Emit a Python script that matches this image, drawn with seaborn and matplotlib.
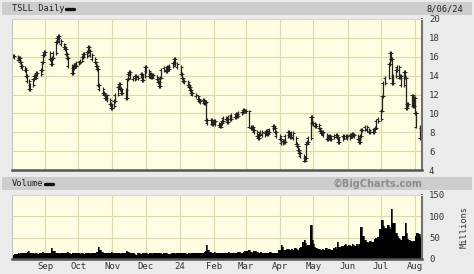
import numpy as np
import pandas as pd
import matplotlib
matplotlib.use("Agg")
import matplotlib.pyplot as plt
import seaborn as sns
from matplotlib.patches import Rectangle
from matplotlib.lines import Line2D

# ---------------- data ----------------
holidays = ['2023-09-04', '2023-11-23', '2023-12-25', '2024-01-01', '2024-01-15',
            '2024-02-19', '2024-03-29', '2024-05-27', '2024-06-19', '2024-07-04']

close_aug23 = [16.1, 16.0, 15.7, 15.9, 15.4, 15.0, 14.8, 14.6, 14.0, 13.4, 12.6, 13.0, 13.6, 14.0, 13.8, 14.3, 14.2, 14.6, 15.4, 16.2, 16.5]
close_sep23 = [16.4, 15.8, 15.2, 15.9, 16.4, 17.6, 18.0, 18.2, 17.7, 17.3, 17.0, 16.8, 16.3, 15.9, 15.0, 14.3, 14.8, 15.1, 15.0, 15.3]
close_oct23 = [15.4, 15.6, 16.0, 16.3, 16.1, 16.5, 17.0, 16.6, 16.2, 15.8, 15.4, 15.0, 14.7, 13.0, 12.6, 12.2, 12.0, 11.6, 11.9, 11.4, 11.0, 10.6]
close_nov23 = [10.8, 11.3, 12.0, 12.8, 13.1, 12.6, 12.2, 12.5, 11.6, 13.6, 14.2, 14.4, 13.8, 13.6, 14.0, 13.7, 13.9, 14.2, 13.5, 14.0, 14.9]
close_dec23 = [14.5, 14.0, 14.2, 13.8, 14.1, 13.9, 13.6, 13.3, 12.9, 13.8, 14.6, 14.8, 14.5, 14.9, 14.7, 15.0, 15.3, 15.8, 15.2, 14.9]
close_jan24 = [14.2, 13.7, 13.4, 13.3, 13.0, 12.8, 12.5, 12.2, 12.0, 11.8, 11.5, 11.3, 11.2, 11.4, 11.1, 11.2, 9.3, 9.0, 9.3, 8.9, 9.1]
close_feb24 = [9.2, 8.9, 8.8, 8.6, 9.0, 9.2, 9.5, 9.4, 9.1, 9.6, 9.4, 9.8, 9.6, 9.9, 9.7, 10.0, 10.1, 10.4, 10.2, 10.3]
close_mar24 = [10.2, 8.6, 8.4, 8.6, 8.2, 8.0, 7.6, 7.4, 7.8, 8.0, 7.7, 7.9, 8.1, 7.8, 8.0, 8.3, 8.7, 8.5, 8.0, 7.6]
close_apr24 = [7.3, 6.9, 7.1, 7.0, 7.6, 8.0, 7.7, 7.5, 7.9, 7.4, 6.8, 6.5, 6.1, 5.8, 5.5, 5.0, 5.3, 6.8, 7.0, 7.4, 9.6, 9.0]
close_may24 = [8.9, 8.7, 8.8, 8.4, 8.1, 7.9, 8.0, 7.7, 7.3, 7.4, 7.6, 7.3, 7.5, 7.6, 7.7, 7.5, 7.0, 7.3, 7.6, 7.5, 7.6, 7.4]
close_jun24 = [7.7, 7.6, 7.8, 7.7, 7.6, 7.3, 7.0, 7.6, 8.2, 8.3, 8.6, 8.2, 8.0, 8.1, 8.0, 8.3, 8.5, 9.2, 9.4]
close_jul24 = [10.3, 11.8, 13.2, 13.8, 15.2, 16.4, 15.8, 13.2, 14.0, 14.6, 14.9, 13.8, 14.0, 13.0, 14.4, 13.8, 10.6, 11.0, 10.9, 11.9, 10.8, 11.6]
close_aug24 = [10.0, 8.6, 7.4, 8.4]

vol_aug23 = [10, 12, 11, 13, 12, 14, 13, 15, 14, 16, 18, 15, 13, 12, 14, 13, 12, 14, 15, 16, 15]
vol_sep23 = [15, 13, 14, 26, 18, 15, 14, 13, 12, 14, 13, 15, 14, 16, 13, 12, 14, 13, 15, 14]
vol_oct23 = [13, 12, 14, 13, 12, 15, 14, 13, 12, 14, 13, 15, 17, 29, 22, 17, 15, 14, 13, 15, 14, 16]
vol_nov23 = [14, 13, 15, 14, 13, 12, 14, 13, 15, 18, 16, 15, 14, 13, 12, 10, 13, 12, 14, 13, 15]
vol_dec23 = [13, 12, 14, 13, 12, 14, 13, 15, 14, 13, 12, 14, 15, 13, 12, 11, 13, 14, 12, 13]
vol_jan24 = [13, 14, 15, 13, 12, 14, 13, 12, 14, 13, 15, 14, 13, 15, 16, 18, 32, 22, 17, 15, 14]
vol_feb24 = [16, 15, 14, 13, 15, 14, 13, 15, 14, 16, 15, 14, 13, 15, 17, 16, 14, 15, 16, 18]
vol_mar24 = [18, 20, 17, 16, 15, 19, 17, 15, 14, 16, 15, 14, 13, 15, 14, 16, 15, 14, 13, 15]
vol_apr24 = [20, 33, 28, 22, 20, 24, 22, 21, 23, 20, 25, 24, 22, 26, 28, 40, 45, 38, 30, 32, 80, 45]
vol_may24 = [35, 28, 25, 24, 22, 20, 23, 21, 25, 22, 24, 20, 22, 26, 27, 24, 40, 28, 30, 32, 35, 31]
vol_jun24 = [33, 30, 34, 32, 31, 35, 30, 36, 76, 55, 45, 40, 38, 42, 40, 48, 50, 47, 52]
vol_jul24 = [70, 91, 78, 72, 80, 75, 70, 117, 85, 60, 55, 50, 48, 45, 55, 84, 60, 48, 45, 42, 40, 43]
vol_aug24 = [55, 61, 58, 52]

month_labels = ['Sep', 'Oct', 'Nov', 'Dec', '24', 'Feb', 'Mar', 'Apr', 'May', 'Jun', 'Jul', 'Aug']
price_ticks = [4, 6, 8, 10, 12, 14, 16, 18, 20]
vol_ticks = [0, 50, 100, 150]

closes = np.array(close_aug23 + close_sep23 + close_oct23 + close_nov23 + close_dec23 + close_jan24 +
                  close_feb24 + close_mar24 + close_apr24 + close_may24 + close_jun24 + close_jul24 + close_aug24)
volume = np.array(vol_aug23 + vol_sep23 + vol_oct23 + vol_nov23 + vol_dec23 + vol_jan24 +
                  vol_feb24 + vol_mar24 + vol_apr24 + vol_may24 + vol_jun24 + vol_jul24 + vol_aug24)
dates = pd.bdate_range('2023-08-03', '2024-08-06', freq='C', holidays=holidays)
n = min(len(dates), len(closes), len(volume))
dates, closes, volume = dates[:n], closes[:n], volume[:n]
opens = np.r_[closes[0], closes[:-1]]
df = pd.DataFrame({'date': dates, 'open': opens, 'close': closes, 'volume': volume})

# ---------------- style ----------------
sns.set_style('white')
plt.rcParams['font.family'] = ['DejaVu Sans Mono', 'DejaVu Sans']

W, H = 474, 274
BG = '#ebebeb'
PLOT_BG = '#fffde2'
GRID = '#dcd8a8'
INK = '#222222'

fig = plt.figure(figsize=(W / 100, H / 100), dpi=100, facecolor=BG)


def box(l, t, r, b):
    return [l / W, 1 - b / H, (r - l) / W, (b - t) / H]


for (t, b) in [(2, 15), (177, 190)]:
    fig.patches.append(Rectangle((2 / W, 1 - b / H), 470 / W, (b - t) / H, transform=fig.transFigure,
                                 facecolor='#cdcdcd', edgecolor='none', zorder=0))

ax_p = fig.add_axes(box(12, 19, 422, 170))
ax_v = fig.add_axes(box(12, 195, 422, 259), sharex=ax_p)

month_starts = pd.date_range('2023-09-01', '2024-08-01', freq='MS')
xlim = (pd.Timestamp('2023-08-02'), pd.Timestamp('2024-08-07 06:00'))

for ax in (ax_p, ax_v):
    ax.set_facecolor(PLOT_BG)
    ax.set_axisbelow(True)
    ax.grid(True, color=GRID, lw=0.8)
    ax.yaxis.tick_right()
    ax.tick_params(axis='y', length=0, pad=5, labelsize=6.5, colors='#333333')
    ax.set_xticks(month_starts)
    ax.spines['left'].set_color('#c4c4c4')
    ax.spines['left'].set_linewidth(0.8)
    ax.spines['top'].set_color('#d4d4d4')
    ax.spines['top'].set_linewidth(0.8)
    ax.spines['right'].set_color('#707070')
    ax.spines['right'].set_linewidth(1.5)
    ax.spines['bottom'].set_color('#555555')
    ax.spines['bottom'].set_linewidth(1.8)

# price bars (range from previous close to close, with open/close ticks)
lo = np.minimum(df['open'], df['close']) - 0.2
hi = np.maximum(df['open'], df['close']) + 0.2
ax_p.vlines(df['date'], lo, hi, color=INK, lw=0.9)
ax_p.plot(df['date'], df['close'], ls='none', marker=0, ms=1.3, mew=0.7, color=INK)
ax_p.plot(df['date'], df['open'], ls='none', marker=1, ms=1.3, mew=0.7, color=INK)
ax_p.set_ylim(4, 20)
ax_p.set_yticks(price_ticks)
ax_p.set_xlim(*xlim)
ax_p.tick_params(axis='x', length=0, labelbottom=False)
ax_p.set_xlabel('')
ax_p.set_ylabel('')

# volume
ax_v.fill_between(df['date'], 0, df['volume'], step='mid', color='black', lw=0)
sns.lineplot(data=df, x='date', y='volume', ax=ax_v, color='black', lw=0.5, drawstyle='steps-mid')
ax_v.set_ylim(0, 150)
ax_v.set_yticks(vol_ticks)
ax_v.set_xlim(*xlim)
ax_v.set_xticks(month_starts)
ax_v.set_xticklabels(month_labels)
ax_v.tick_params(axis='x', length=0, pad=2, labelsize=6.5, colors='#333333')
ax_v.set_xlabel('')
ax_v.set_ylabel('')

# header texts
fig.text(12 / W, 1 - 8.5 / H, 'TSLL Daily', fontsize=6.3, va='center', ha='left', color='#222222')
fig.add_artist(Line2D([66 / W, 74 / W], [1 - 8.5 / H] * 2, transform=fig.transFigure, color='#111111', lw=2.4))
fig.text(463 / W, 1 - 8.5 / H, '8/06/24', fontsize=6.3, va='center', ha='right', color='#222222')
fig.text(12 / W, 1 - 184 / H, 'Volume', fontsize=6.3, va='center', ha='left', color='#222222')
fig.add_artist(Line2D([45 / W, 53 / W], [1 - 184 / H] * 2, transform=fig.transFigure, color='#111111', lw=2.4))
fig.text(422 / W, 1 - 184 / H, '\u00a9BigCharts.com', fontsize=7, fontweight='bold', va='center', ha='right',
         color='#8c8c8c', family='DejaVu Sans')
fig.text(464 / W, 1 - 227 / H, 'Millions', fontsize=6.3, rotation=90, va='center', ha='center', color='#333333')

fig.savefig('out.png', dpi=100, facecolor=BG)
